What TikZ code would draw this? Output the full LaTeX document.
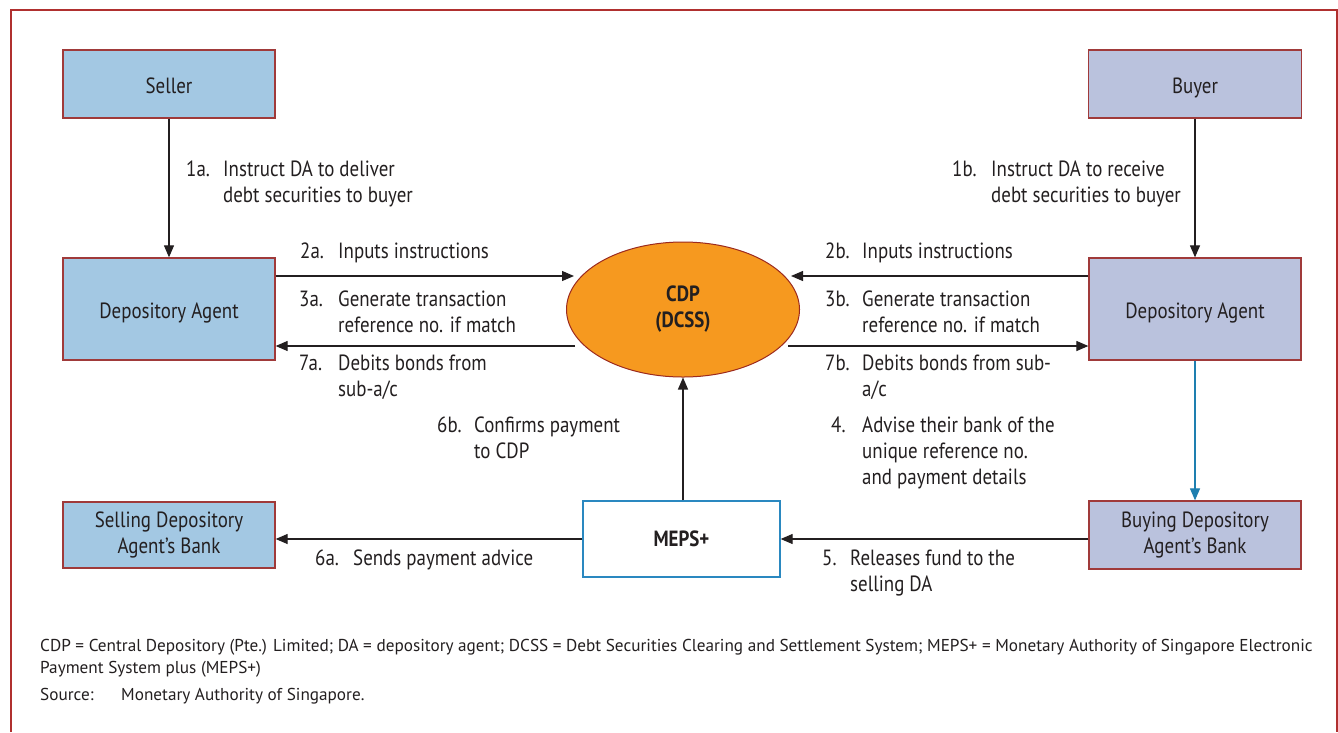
\documentclass[tikz,border=0pt]{standalone}
\usepackage{fontspec}
\setmainfont{PT Sans}[FakeStretch=0.86]
\newfontfamily\notefam{PT Sans}
\usetikzlibrary{arrows.meta,shapes.geometric}
\definecolor{framered}{HTML}{B0302F}
\definecolor{boxborder}{HTML}{A03A3A}
\definecolor{sellfill}{HTML}{A3C8E3}
\definecolor{buyfill}{HTML}{BAC2DD}
\definecolor{cdporange}{HTML}{F6991F}
\definecolor{cdpborder}{HTML}{9C2A1E}
\definecolor{mepsblue}{HTML}{2A88C0}
\definecolor{arrowblue}{HTML}{1E7FB0}
\definecolor{textgray}{HTML}{231F20}
\newcommand\lblfont{\fontsize{22}{26}\selectfont}
\newcommand\notefont{\notefam\fontsize{17.2}{22}\selectfont}
\begin{document}
\begin{tikzpicture}[x=1pt,y=-1pt,
  every node/.style={text=textgray},
  boxnode/.style={draw=boxborder, line width=1.3pt, inner sep=0pt, align=center, font=\lblfont},
  oneline/.style={text height=18pt, text depth=0pt},
  sellbox/.style={boxnode, fill=sellfill},
  buybox/.style={boxnode, fill=buyfill},
  lbl/.style={anchor=base west, inner sep=0pt, font=\lblfont},
  note/.style={anchor=base west, inner sep=0pt, font=\notefont},
  conn/.style={draw=textgray, line width=1.2pt, -{Triangle[length=12pt,width=10pt]}},
  blueconn/.style={draw=arrowblue, line width=1.2pt, -{Triangle[length=12pt,width=10pt]}}
]
\useasboundingbox (0,0) rectangle (1338,732);
\fill[white] (0,0) rectangle (1338,732);
\draw[framered, line width=1.3pt] (11,732) -- (11,10) -- (1337,10) -- (1337,732);

% boxes
\node[sellbox, oneline, minimum width=212pt, minimum height=68pt] (seller) at (169,84) {Seller};
\node[buybox, oneline, minimum width=213pt, minimum height=68pt] (buyer) at (1195,84) {Buyer};
\node[sellbox, oneline, minimum width=212pt, minimum height=102pt] (daL) at (169,309) {Depository Agent};
\node[buybox, oneline, minimum width=212pt, minimum height=102pt] (daR) at (1195,309) {Depository Agent};
\node[sellbox, minimum width=212pt, minimum height=66pt] (bankL) at (169,535) {Selling Depository\\Agent’s Bank};
\node[buybox, minimum width=212pt, minimum height=68pt] (bankR) at (1195,535) {Buying Depository\\Agent’s Bank};
\node[draw=mepsblue, fill=white, line width=1.3pt, minimum width=197pt, minimum height=76pt, inner sep=0pt, font=\lblfont\bfseries] (meps) at (681.5,539) {MEPS+};
\node[ellipse, draw=cdpborder, fill=cdporange, line width=1pt, minimum width=233pt, minimum height=135pt, inner sep=0pt, align=center, font=\lblfont\bfseries] (cdp) at (683,309.5) {CDP\\(DCSS)};

% connector end points near the ellipse
\coordinate (c2a) at (574,276);
\coordinate (c2b) at (791,276);
\coordinate (c7a) at (575,346);
\coordinate (c7b) at (788,346);

% connectors
\draw[conn] (seller) -- (daL);
\draw[conn] (buyer) -- (daR);
\draw[conn] (daL.east |- c2a) -- (c2a);
\draw[conn] (daR.west |- c2b) -- (c2b);
\draw[conn] (c7a) -- (daL.east |- c7a);
\draw[conn] (c7b) -- (daR.west |- c7b);
\draw[conn] (meps.north -| cdp.south) -- (cdp.south);
\draw[conn] (meps.west) -- (bankL.east |- meps.west);
\draw[conn] (bankR.west |- meps.east) -- (meps.east);
\draw[blueconn] (daR) -- (bankR);

% labels
\node[lbl] (n1a) at (186,176) {1a.};
\node[lbl] (t1a) at (223,176) {\begin{tabular}[t]{@{}l@{}}Instruct DA to deliver\\debt securities to buyer\end{tabular}};
\node[lbl] (n1b) at (952,176) {1b.};
\node[lbl] (t1b) at (991,176) {\begin{tabular}[t]{@{}l@{}}Instruct DA to receive\\debt securities to buyer\end{tabular}};
\node[lbl] (n2a) at (300,258) {2a.};
\node[lbl] (t2a) at (338,258) {Inputs instructions};
\node[lbl] (n3a) at (299,306) {3a.};
\node[lbl] (t3a) at (338,306) {\begin{tabular}[t]{@{}l@{}}Generate transaction\\reference no. if match\end{tabular}};
\node[lbl] (n7a) at (299,370) {7a.};
\node[lbl] (t7a) at (338,370) {\begin{tabular}[t]{@{}l@{}}Debits bonds from\\sub-a/c\end{tabular}};
\node[lbl] (n2b) at (825,258) {2b.};
\node[lbl] (t2b) at (862,258) {Inputs instructions};
\node[lbl] (n3b) at (825,306) {3b.};
\node[lbl] (t3b) at (862,306) {\begin{tabular}[t]{@{}l@{}}Generate transaction\\reference no. if match\end{tabular}};
\node[lbl] (n7b) at (825,370) {7b.};
\node[lbl] (t7b) at (862,370) {\begin{tabular}[t]{@{}l@{}}Debits bonds from sub-\\a/c\end{tabular}};
\node[lbl] (n6b) at (437,432) {6b.};
\node[lbl] (t6b) at (474,432) {\begin{tabular}[t]{@{}l@{}}Confirms payment\\to CDP\end{tabular}};
\node[lbl] (n4) at (831,432) {4.};
\node[lbl] (t4) at (862,432) {\begin{tabular}[t]{@{}l@{}}Advise their bank of the\\unique reference no.\\and payment details\end{tabular}};
\node[lbl] (n6a) at (315,565) {6a.};
\node[lbl] (t6a) at (353,565) {Sends payment advice};
\node[lbl] (n5) at (822,565) {5.};
\node[lbl] (t5) at (850,565) {\begin{tabular}[t]{@{}l@{}}Releases fund to the\\selling DA\end{tabular}};

% footnote
\node[note] (fn) at (40,651) {\begin{tabular}[t]{@{}l@{}}CDP = Central Depository (Pte.) Limited; DA = depository agent; DCSS = Debt Securities Clearing and Settlement System; MEPS+ = Monetary Authority of Singapore Electronic\\Payment System plus (MEPS+)\end{tabular}};
\node[note] (src) at (40,700) {Source:};
\node[note] (srct) at (121,700) {Monetary Authority of Singapore.};
\end{tikzpicture}
\end{document}
